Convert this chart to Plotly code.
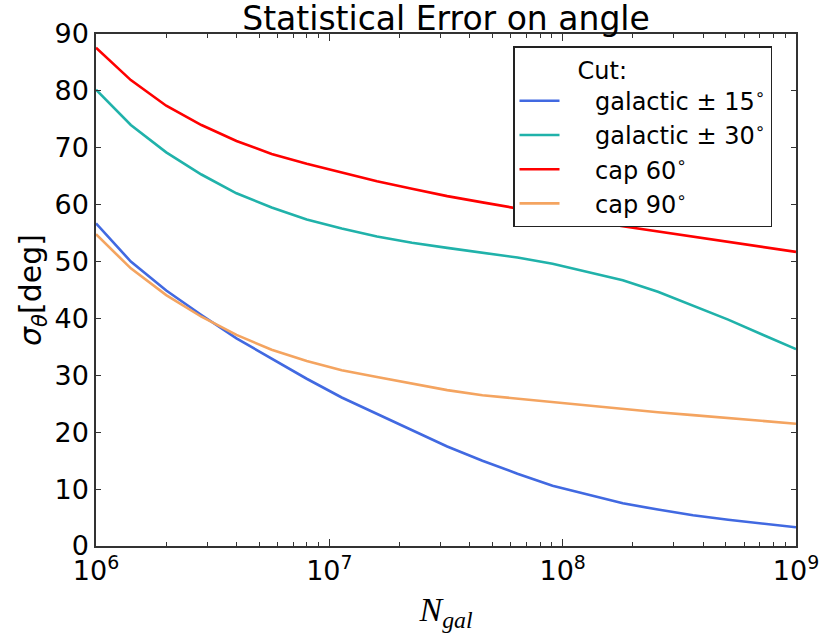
import plotly.graph_objects as go

# Number of galaxies (x values)
n_gal = [1.0e6, 1.41e6, 2.0e6, 2.83e6, 4.0e6, 5.66e6, 8.0e6, 1.13e7, 1.6e7, 2.26e7,
         3.2e7, 4.53e7, 6.4e7, 9.05e7, 1.28e8, 1.81e8, 2.56e8, 3.62e8, 5.12e8, 7.24e8, 1.0e9]

# Statistical error on angle (deg)
gal15 = [56.7, 50.0, 44.9, 40.6, 36.5, 32.9, 29.4, 26.1, 23.2, 20.3,
         17.5, 15.0, 12.7, 10.6, 9.0, 7.5, 6.4, 5.4, 4.6, 3.9, 3.3]
gal30 = [80.2, 74.0, 69.2, 65.3, 62.0, 59.5, 57.4, 55.8, 54.4, 53.3,
         52.4, 51.6, 50.7, 49.6, 48.2, 46.7, 44.7, 42.3, 39.8, 37.1, 34.6]
cap60 = [87.6, 81.9, 77.4, 74.0, 71.2, 68.9, 67.2, 65.6, 64.1, 62.8,
         61.5, 60.4, 59.3, 58.2, 57.2, 56.2, 55.3, 54.4, 53.5, 52.6, 51.7]
cap90 = [54.8, 48.8, 44.1, 40.3, 37.1, 34.5, 32.5, 30.9, 29.7, 28.5,
         27.4, 26.5, 25.9, 25.2, 24.6, 24.0, 23.5, 23.0, 22.5, 22.0, 21.5]

series_names = ["galactic ± 15<sup>∘</sup>", "galactic ± 30<sup>∘</sup>",
                "cap 60<sup>∘</sup>", "cap 90<sup>∘</sup>"]
series_colors = ["#4169E1", "#20B2AA", "#FF0000", "#F4A460"]
series_values = [gal15, gal30, cap60, cap90]

x_tickvals = [1e6, 1e7, 1e8, 1e9]
x_ticktext = ["10<sup>6</sup>", "10<sup>7</sup>", "10<sup>8</sup>", "10<sup>9</sup>"]
x_minor_vals = [m * d for d in (1e6, 1e7, 1e8) for m in range(2, 10)]
y_tickvals = [0, 10, 20, 30, 40, 50, 60, 70, 80, 90]

fig = go.Figure()
for name, color, vals in zip(series_names, series_colors, series_values):
    fig.add_trace(go.Scatter(x=n_gal, y=vals, mode="lines",
                             name="&nbsp;&nbsp;&nbsp;&nbsp;" + name,
                             line=dict(color=color, width=2.6)))

axis_common = dict(
    showgrid=False, zeroline=False, showline=True, linecolor="#333333", linewidth=1.5,
    mirror="ticks", ticks="inside", tickcolor="#333333", tickwidth=1, automargin=False,
)

fig.update_layout(
    width=824, height=641,
    margin=dict(l=96, r=28, t=34, b=95),
    paper_bgcolor="white", plot_bgcolor="white",
    font=dict(family="DejaVu Sans", color="black"),
    title=dict(text="Statistical Error on angle", x=0.5, xref="paper", xanchor="center",
               y=1 - 18 / 641, yref="container", yanchor="middle",
               font=dict(size=33, family="DejaVu Sans", color="black")),
    xaxis=dict(type="log", range=[6, 9], tickvals=x_tickvals, ticktext=x_ticktext,
               ticklen=7, tickfont=dict(size=27),
               minor=dict(tickvals=x_minor_vals, ticks="inside", ticklen=4,
                          tickcolor="#333333", tickwidth=1, showgrid=False),
               title=dict(text="<i>N</i><sub><i>gal</i></sub>",
                          font=dict(size=34, family="Liberation Serif"), standoff=12),
               **axis_common),
    yaxis=dict(range=[0, 90], tickvals=y_tickvals, ticklen=5, tickfont=dict(size=27),
               title=dict(text="<i>σ</i><sub><i>θ</i></sub>[deg]", font=dict(size=30),
                          standoff=4),
               **axis_common),
    legend=dict(x=(513 - 96) / 700, y=(546 - 46) / 512, xanchor="left", yanchor="top",
                bordercolor="#222222", borderwidth=1.5, bgcolor="white",
                font=dict(size=24, family="DejaVu Sans"),
                title=dict(text="&nbsp;&nbsp;&nbsp;&nbsp;&nbsp;&nbsp;&nbsp;&nbsp;Cut:",
                           font=dict(size=24, family="DejaVu Sans")),
                itemwidth=40),
    showlegend=True,
)

fig.write_html("out.html")
